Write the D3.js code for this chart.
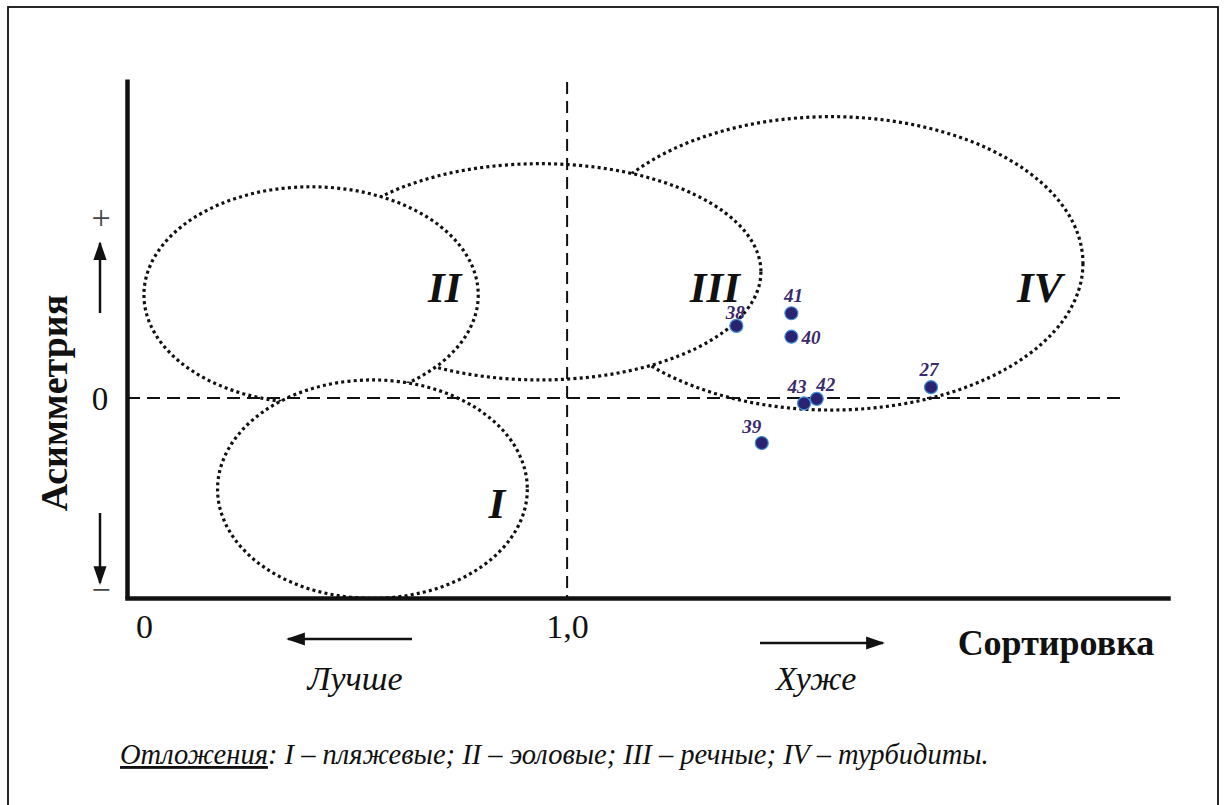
<!DOCTYPE html>
<html lang="ru">
<head>
<meta charset="UTF-8">
<title>Сортировка – Асимметрия</title>
<script src="https://d3js.org/d3.v7.min.js"></script>
<style>
  body { margin: 0; background: #fff; }
  svg { display: block; font-family: "Liberation Serif", "Times New Roman", serif; }
</style>
</head>
<body>
<svg></svg>
<script>
// samples: sorting (x) vs skewness (y)
const sampleIds = ["38", "41", "40", "43", "42", "39", "27"];
const sorting   = [1.40, 1.53, 1.53, 1.56, 1.59, 1.46, 1.86];
const skewness  = [0.40, 0.47, 0.34, -0.03, -0.005, -0.25, 0.06];

// environment fields (ellipses), data units; drawn back to front
const zoneNames = ["IV", "III", "II", "I"];
const zoneCx = [1.624, 0.936, 0.395, 0.54];
const zoneCy = [0.747, 0.70, 0.572, -0.506];
const zoneRx = [0.595, 0.522, 0.395, 0.366];
const zoneRy = [0.814, 0.60, 0.60, 0.606];
const zoneLabelX = [2.117, 1.349, 0.711, 0.834];
const zoneLabelY = [0.533, 0.533, 0.533, -0.667];

const xTicks = [0, 1];
const xTickLabels = ["0", "1,0"];
const yTicks = [0];
const yTickLabels = ["0"];
const xDomain = [-0.04, 2.42];
const yDomain = [-1.11, 1.77];

// label nudges for sample numbers (px)
const labelNudge = {
  "38": [-1, -7, "middle"], "41": [2, -11, "middle"], "40": [10, 7, "start"],
  "43": [-7, -10, "middle"], "42": [9, -8, "middle"], "39": [-10, -10, "middle"],
  "27": [-2, -11, "middle"]
};

const width = 1224, height = 805;
const svg = d3.select("svg").attr("width", width).attr("height", height);

svg.append("rect").attr("width", width).attr("height", height).attr("fill", "#fff");
// outer frame
svg.append("rect")
  .attr("x", 8).attr("y", 7).attr("width", 1210).attr("height", 810)
  .attr("fill", "none").attr("stroke", "#111").attr("stroke-width", 1.8);

const x = d3.scaleLinear().domain(xDomain).range([127, 1168]);
const y = d3.scaleLinear().domain(yDomain).range([598, 79]);

const defs = svg.append("defs");
defs.append("marker")
  .attr("id", "arr").attr("viewBox", "0 0 10 7")
  .attr("refX", 9).attr("refY", 3.5)
  .attr("markerWidth", 7.5).attr("markerHeight", 5.25)
  .attr("markerUnits", "strokeWidth")
  .attr("orient", "auto")
  .append("path").attr("d", "M0,0L10,3.5L0,7z").attr("fill", "#111");

// ellipses, white filled so later ones cover earlier outlines
const zones = zoneNames.map((n, i) => ({
  name: n, cx: zoneCx[i], cy: zoneCy[i], rx: zoneRx[i], ry: zoneRy[i],
  lx: zoneLabelX[i], ly: zoneLabelY[i]
}));

svg.selectAll(".zone")
  .data(zones)
  .join("ellipse")
  .attr("class", "zone")
  .attr("cx", d => x(d.cx))
  .attr("cy", d => y(d.cy))
  .attr("rx", d => x(d.cx + d.rx) - x(d.cx))
  .attr("ry", d => y(d.cy) - y(d.cy + d.ry))
  .attr("fill", "#fff")
  .attr("stroke", "#111")
  .attr("stroke-width", 3.2)
  .attr("stroke-dasharray", "3,3.2");

// dashed reference lines
svg.append("line")
  .attr("x1", x(1)).attr("x2", x(1))
  .attr("y1", y(yDomain[1]) + 3).attr("y2", y(yDomain[0]))
  .attr("stroke", "#111").attr("stroke-width", 2).attr("stroke-dasharray", "12,7");
svg.append("line")
  .attr("x1", x(xDomain[0])).attr("x2", x(2.32))
  .attr("y1", y(0)).attr("y2", y(0))
  .attr("stroke", "#111").attr("stroke-width", 2).attr("stroke-dasharray", "13,7");

svg.selectAll(".zone-label")
  .data(zones)
  .join("text")
  .attr("class", "zone-label")
  .attr("x", d => x(d.lx))
  .attr("y", d => y(d.ly))
  .attr("text-anchor", "middle")
  .attr("font-size", 43)
  .attr("font-weight", "bold")
  .attr("font-style", "italic")
  .attr("fill", "#111")
  .text(d => d.name);

// axes
const xAxis = d3.axisBottom(x).tickValues(xTicks).tickSize(0).tickPadding(0)
  .tickFormat((d, i) => xTickLabels[i]);
svg.append("g")
  .attr("transform", `translate(0, ${y(yDomain[0])})`)
  .call(xAxis)
  .call(g => g.select(".domain").attr("stroke", "#111").attr("stroke-width", 4.5)
    .attr("stroke-linecap", "square"))
  .call(g => g.selectAll(".tick text")
    .attr("font-family", "Liberation Serif, serif").attr("font-size", 34)
    .attr("fill", "#111").attr("dy", null).attr("y", 40));

const yAxis = d3.axisLeft(y).tickValues(yTicks).tickSize(0).tickPadding(0)
  .tickFormat((d, i) => yTickLabels[i]);
svg.append("g")
  .attr("transform", `translate(${x(xDomain[0])}, 0)`)
  .call(yAxis)
  .call(g => g.select(".domain").attr("stroke", "#111").attr("stroke-width", 4.5))
  .call(g => g.selectAll(".tick text")
    .attr("font-family", "Liberation Serif, serif").attr("font-size", 33)
    .attr("fill", "#111").attr("text-anchor", "middle").attr("x", -27).attr("dy", "0.35em"));

// direction arrows
const arrows = [
  [412, 639, 288, 639], [760, 643, 883, 643],
  [100, 313, 100, 243], [100, 513, 100, 583]
];
svg.selectAll(".arrow")
  .data(arrows)
  .join("line")
  .attr("class", "arrow")
  .attr("x1", d => d[0]).attr("y1", d => d[1])
  .attr("x2", d => d[2]).attr("y2", d => d[3])
  .attr("stroke", "#111").attr("stroke-width", 2.5)
  .attr("marker-end", "url(#arr)");

svg.append("text").attr("x", 101).attr("y", 229).attr("text-anchor", "middle")
  .attr("font-size", 34).attr("fill", "#444").text("+");
svg.append("text").attr("x", 101).attr("y", 601).attr("text-anchor", "middle")
  .attr("font-size", 34).attr("fill", "#444").text("−");

// axis titles
svg.append("text")
  .attr("transform", "translate(67, 403) rotate(-90)")
  .attr("text-anchor", "middle")
  .attr("font-size", 38).attr("font-weight", "bold").attr("fill", "#111")
  .text("Асимметрия");

svg.append("text")
  .attr("x", 1056).attr("y", 655).attr("text-anchor", "middle")
  .attr("font-size", 36).attr("font-weight", "bold").attr("fill", "#111")
  .text("Сортировка");

svg.append("text")
  .attr("x", 355).attr("y", 690).attr("text-anchor", "middle")
  .attr("font-size", 34).attr("font-style", "italic").attr("fill", "#111")
  .text("Лучше");
svg.append("text")
  .attr("x", 816).attr("y", 690).attr("text-anchor", "middle")
  .attr("font-size", 34).attr("font-style", "italic").attr("fill", "#111")
  .text("Хуже");

// sample points
const samples = sampleIds.map((id, i) => ({ id, sx: sorting[i], sk: skewness[i] }));

svg.selectAll(".dot")
  .data(samples)
  .join("circle")
  .attr("class", "dot")
  .attr("cx", d => x(d.sx))
  .attr("cy", d => y(d.sk))
  .attr("r", 6.5)
  .attr("fill", "#2b2372")
  .attr("stroke", "#3f8fd8")
  .attr("stroke-width", 1.2);

svg.selectAll(".dot-label")
  .data(samples)
  .join("text")
  .attr("class", "dot-label")
  .attr("x", d => x(d.sx) + labelNudge[d.id][0])
  .attr("y", d => y(d.sk) + labelNudge[d.id][1])
  .attr("text-anchor", d => labelNudge[d.id][2])
  .attr("font-size", 19)
  .attr("font-weight", "bold")
  .attr("font-style", "italic")
  .attr("fill", "#3a2a6c")
  .text(d => d.id);

// footnote
const note = svg.append("text")
  .attr("x", 120).attr("y", 764)
  .attr("font-size", 28.5).attr("font-style", "italic").attr("fill", "#111");
note.append("tspan").attr("text-decoration", "underline").text("Отложения");
note.append("tspan").text(": I – пляжевые; II – эоловые; III – речные; IV – турбидиты.");
</script>
</body>
</html>
